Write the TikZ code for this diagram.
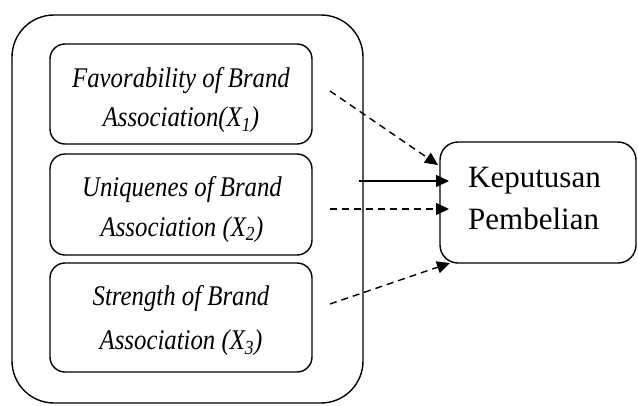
\documentclass[tikz,border=0pt]{standalone}
\usepackage{fontspec}
\usepackage{graphicx}
\setmainfont{Liberation Serif}
\usetikzlibrary{arrows.meta}
\newcommand{\narrowlines}[3][0pt]{\scalebox{0.87}[1]{\begin{tabular}{@{}c@{}}#2\\[#1]#3\end{tabular}}}
\tikzset{
  outerbox/.style={draw, line width=1.4pt, rounded corners=42pt},
  innerbox/.style={draw, line width=1.4pt, rounded corners=15pt, minimum width=262pt, inner sep=0pt},
  itext/.style={inner sep=0pt, font=\itshape\fontsize{28.5}{39.5}\selectfont},
  rbox/.style={draw, line width=1.4pt, rounded corners=18pt, minimum width=196pt, minimum height=121pt, inner sep=0pt},
  rtext/.style={inner sep=0pt, align=left, font=\fontsize{31}{42}\selectfont},
  dasharrow/.style={line width=1.4pt, dash pattern=on 7pt off 5pt, -{Triangle[length=13pt,width=12pt]}},
  solidarrow/.style={line width=1.4pt, -{Triangle[length=13pt,width=12pt]}}
}
\begin{document}
\begin{tikzpicture}[x=1pt,y=-1pt]
\useasboundingbox (0,0) rectangle (638,405);
\begin{scope}
\clip (0,0) rectangle (638,405);
\draw[outerbox] (12,15) rectangle (363,403);
\end{scope}
\node[innerbox, minimum height=100pt] (b1) at (181,94) {};
\node[innerbox, minimum height=101pt] (b2) at (181,204.5) {};
\node[innerbox, minimum height=109pt] (b3) at (181,317.5) {};
\node[itext] (t1) at (181,99) {\narrowlines{Favorability of Brand}{Association(X\textsubscript{1})}};
\node[itext] (t2) at (182,208.7) {\narrowlines{Uniquenes of Brand}{Association (X\textsubscript{2})}};
\node[itext] (t3) at (181,320) {\narrowlines[4.5pt]{Strength of Brand}{Association (X\textsubscript{3})}};
\node[rbox] (kp) at (538,202.5) {};
\node[rtext] (kpt) at (534.5,198.4) {Keputusan\\Pembelian};
\coordinate (s1) at (330,91);
\coordinate (e1) at (438,165);
\coordinate (s0) at (359,181);
\coordinate (e0) at (449,181);
\coordinate (s2) at (330,209);
\coordinate (e2) at (449,209);
\coordinate (s3) at (330,304);
\coordinate (e3) at (450,263);
\draw[dasharrow] (s1) -- (e1);
\draw[solidarrow] (s0) -- (e0);
\draw[dasharrow] (s2) -- (e2);
\draw[dasharrow] (s3) -- (e3);
\end{tikzpicture}
\end{document}
